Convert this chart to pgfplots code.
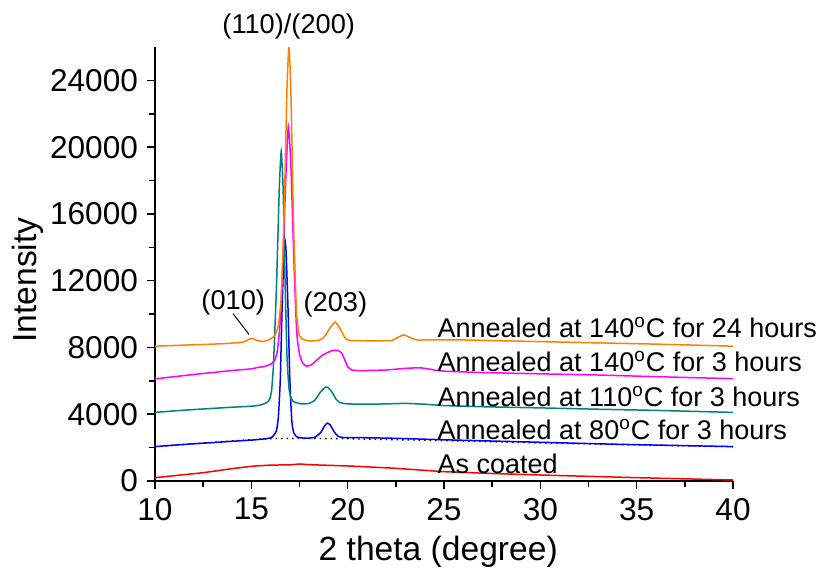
\documentclass[border=0pt]{standalone}
\usepackage{pgfplots}
\pgfplotsset{compat=1.18}
\usepackage{fontspec}
\setmainfont{Liberation Sans}
\definecolor{corange}{RGB}{255,128,0}
\definecolor{cmag}{RGB}{255,0,255}
\definecolor{cteal}{RGB}{0,128,128}
\definecolor{cblue}{RGB}{0,0,255}
\definecolor{cred}{RGB}{255,0,0}
\begin{document}
\begin{tikzpicture}
\path[use as bounding box] (-77.5pt,-43.5pt) rectangle (333.5pt,240.5pt);
\begin{axis}[
  at={(0pt,0pt)}, anchor=south west,
  scale only axis, width=289pt, height=217pt,
  xmin=10, xmax=40, ymin=0, ymax=26000,
  axis x line=bottom, axis y line=left,
  axis line style={-, line width=0.9pt},
  tick align=outside,
  major tick length=4pt, minor tick length=3pt,
  every tick/.style={line width=0.8pt, black},
  xtick={10,15,...,40}, minor x tick num=1,
  ytick={0,4000,...,24000}, minor y tick num=1,
  scaled y ticks=false,
  /pgf/number format/assume math mode=true,
  /pgf/number format/fixed,
  /pgf/number format/set thousands separator={},
  tick label style={font=\fontsize{15.8}{16}\selectfont},
  xticklabel style={yshift=-1pt},
  yticklabel style={xshift=-1pt},
  xlabel={2 theta (degree)},
  ylabel={Intensity},
  xlabel style={font=\fontsize{16.8}{17}\selectfont, at={(axis description cs:0.49,-0.182)}, anchor=base},
  ylabel style={font=\fontsize{16.8}{17}\selectfont, at={(axis description cs:-0.22,0.463)}, anchor=center},
  clip mode=individual,
  every axis plot/.append style={line width=0.75pt, smooth, tension=0.3},
]
% As coated
\addplot[cred] coordinates {
(10,200) (11.25,350) (12.5,500) (13.75,700) (15,880) (16,950) (17,970) (17.5,1020) (18,980) (19,940) (20,900) (21,850) (22.5,760) (24,640) (25,560) (27.5,450) (30,360) (32.5,280) (35,200) (37.5,130) (40,60)};
% baseline dotted
\addplot[black, dotted, line width=0.7pt] coordinates {
(10,2050) (12,2230) (14,2400) (16,2540) (18,2550) (20,2530) (22.7,2470) (25,2420) (28,2340) (31,2260) (34,2190) (37,2120) (40,2060)};
% 80C 3h
\addplot[cblue] coordinates {
(10,2060) (11,2150) (12,2230) (13,2300) (14,2380) (15,2450) (15.5,2500) (15.9,2560) (16.1,2650) (16.3,3000) (16.4,3800) (16.5,6000) (16.6,10500) (16.7,14000) (16.75,14400) (16.8,13800) (16.9,10500) (17.0,6000) (17.1,3600) (17.2,2900) (17.35,2650) (17.6,2580) (18.0,2570) (18.3,2620) (18.6,2900) (18.8,3300) (18.95,3470) (19.1,3350) (19.3,2950) (19.5,2680) (19.8,2600) (20.5,2600) (22,2570) (23,2540) (25,2470) (28,2380) (31,2290) (34,2200) (37,2130) (40,2060)};
% 110C 3h
\addplot[cteal] coordinates {
(10,4110) (11,4200) (12,4280) (13,4350) (14,4420) (15,4480) (15.5,4560) (15.8,4700) (15.95,4900) (16.05,5400) (16.15,7000) (16.3,11500) (16.45,17500) (16.55,19750) (16.65,17500) (16.75,12000) (16.85,7500) (16.95,5600) (17.05,5000) (17.2,4750) (17.6,4620) (18.0,4650) (18.3,4850) (18.6,5350) (18.85,5630) (19.0,5580) (19.2,5300) (19.4,4900) (19.6,4700) (20,4620) (21,4600) (22,4620) (23,4650) (24,4600) (25,4520) (27,4450) (30,4380) (33,4300) (36,4230) (40,4110)};
% 140C 3h
\addplot[cmag] coordinates {
(10,6120) (11,6250) (12,6380) (13,6500) (14,6620) (15,6720) (15.4,6820) (15.6,6850) (15.8,6900) (16.0,7000) (16.2,7200) (16.35,7800) (16.5,9500) (16.65,13500) (16.8,18500) (16.92,21250) (17.05,19000) (17.2,13500) (17.35,9000) (17.5,7600) (17.65,7100) (17.85,6880) (18.1,6950) (18.4,7250) (18.7,7550) (19.0,7720) (19.25,7830) (19.5,7820) (19.7,7650) (19.85,7250) (20.0,6850) (20.2,6660) (20.5,6620) (21,6620) (22,6650) (23,6750) (23.8,6780) (24.5,6650) (25,6580) (27,6500) (30,6420) (33,6350) (36,6250) (40,6130)};
% 140C 24h
\addplot[corange] coordinates {
(10,8080) (11,8120) (12,8160) (13,8200) (14,8260) (14.6,8330) (14.85,8480) (15.05,8540) (15.3,8420) (15.6,8360) (15.9,8450) (16.2,8700) (16.4,9300) (16.55,11000) (16.7,16000) (16.85,23500) (16.95,26000) (17.05,23500) (17.2,15000) (17.35,10000) (17.5,8700) (17.7,8480) (18.0,8400) (18.5,8430) (18.8,8650) (19.1,9200) (19.35,9520) (19.6,9150) (19.85,8600) (20.1,8420) (21.5,8400) (22.3,8420) (22.6,8600) (22.9,8750) (23.2,8620) (23.6,8450) (24.5,8460) (26,8450) (28,8400) (30,8350) (32,8300) (34,8250) (36,8200) (38,8140) (40,8080)};
% annotations
\node[anchor=base, font=\fontsize{13.6}{14}\selectfont] at (axis cs:16.94,26830) {(110)/(200)};
\node[anchor=base, font=\fontsize{13.6}{14}\selectfont] at (axis cs:14.06,10245) {(010)};
\node[anchor=base, font=\fontsize{13.6}{14}\selectfont] at (axis cs:19.36,10150) {(203)};
\draw[black, line width=0.5pt] (axis cs:14.05,10027) -- (axis cs:14.88,8780);
\node[anchor=base west, inner sep=0pt, font=\fontsize{13.5}{14}\selectfont] at (axis cs:24.65,8600) {Annealed at 140\textsuperscript{o}C for 24 hours};
\node[anchor=base west, inner sep=0pt, font=\fontsize{13.5}{14}\selectfont] at (axis cs:24.65,6556) {Annealed at 140\textsuperscript{o}C for 3 hours};
\node[anchor=base west, inner sep=0pt, font=\fontsize{13.5}{14}\selectfont] at (axis cs:24.65,4451) {Annealed at 110\textsuperscript{o}C for 3 hours};
\node[anchor=base west, inner sep=0pt, font=\fontsize{13.5}{14}\selectfont] at (axis cs:24.65,2466) {Annealed at 80\textsuperscript{o}C for 3 hours};
\node[anchor=base west, inner sep=0pt, font=\fontsize{13.5}{14}\selectfont] at (axis cs:24.65,463) {As coated};
\end{axis}
\end{tikzpicture}
\end{document}
